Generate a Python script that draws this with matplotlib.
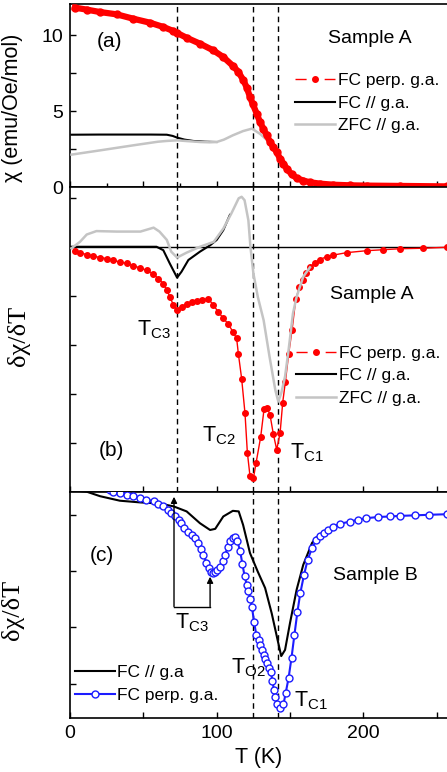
#!/usr/bin/env python

import matplotlib
matplotlib.use("Agg")
import matplotlib.pyplot as plt
from matplotlib.lines import Line2D
from matplotlib.ticker import MultipleLocator, NullFormatter

plt.rcParams['font.family'] = ['Liberation Sans', 'DejaVu Sans']
plt.rcParams['mathtext.fontset'] = 'custom'
plt.rcParams['mathtext.rm'] = 'Liberation Sans'
plt.rcParams['mathtext.default'] = 'regular'

# ---- panel (a): chi vs T, sample A
T_a_perp = [3.4, 11.4, 20.5, 31.8, 43.2, 54.5, 63.6, 70.5, 72.7, 79.5, 88.6, 97.7,
            104.5, 111.4, 114.8, 118.2, 120.5, 122.7, 124.5, 127.3, 129.5, 131.8,
            134.1, 136.4, 138.6, 140.9, 143.2, 145.5, 147.7, 151.1, 154.5, 159.1,
            163.6, 170.5, 179.5, 190.9, 202.3, 225.0, 256.8]
chi_a_perp = [11.80, 11.67, 11.51, 11.36, 11.07, 10.81, 10.53, 10.26, 10.15, 9.82,
              9.43, 8.99, 8.55, 7.94, 7.57, 7.02, 6.54, 5.92, 5.48, 4.82, 4.28,
              3.84, 3.40, 2.96, 2.63, 2.30, 1.86, 1.54, 1.21, 0.83, 0.59, 0.42,
              0.31, 0.22, 0.15, 0.11, 0.09, 0.07, 0.04]

T_a_fc = [1, 20, 40, 55, 66, 70, 73, 78, 84, 92, 100]
chi_a_fc = [3.44, 3.45, 3.45, 3.45, 3.44, 3.36, 3.25, 3.12, 3.03, 2.98, 2.96]

T_a_zfc = [1, 20.5, 43, 60, 66, 73, 80, 88.6, 95, 100, 105, 111, 118, 124, 129.5,
           133, 136, 141, 145.5]
chi_a_zfc = [2.13, 2.41, 2.74, 2.98, 3.03, 3.07, 3.02, 2.96, 2.94, 2.96, 3.12, 3.40,
             3.68, 3.84, 3.50, 3.20, 2.96, 2.40, 1.54]

# ---- panel (b): dchi/dT, sample A
T_b_perp = [3.4, 6.8, 11.4, 15.9, 20.5, 25.0, 29.5, 34.1, 38.6, 43.2, 47.7, 52.3,
            56.8, 60.2, 63.6, 65.9, 68.2, 70.5, 72.7, 76.1, 79.5, 83.0, 86.4, 89.8,
            94.3, 97.7, 101.1, 104.5, 108.0, 110.9, 113.6, 114.8, 117.0, 119.3,
            120.9, 122.7, 125.0, 126.8, 130.0, 132.3, 134.5, 136.4, 138.6, 140.9,
            143.2, 145.0, 146.8, 149.1, 151.4, 153.9, 156.4, 158.6, 160.9, 163.6,
            167.0, 170.5, 175.0, 179.5, 188.6, 202.3, 213.6, 225.0, 240.9, 256.8]
d_b_perp = [-0.08, -0.12, -0.16, -0.19, -0.22, -0.24, -0.28, -0.31, -0.34, -0.39,
            -0.43, -0.48, -0.56, -0.65, -0.75, -0.88, -1.03, -1.19, -1.29, -1.22,
            -1.17, -1.13, -1.10, -1.09, -1.06, -1.19, -1.33, -1.46, -1.58, -1.73,
            -1.87, -2.19, -2.69, -3.40, -4.20, -4.68, -4.73, -4.42, -3.88, -3.31,
            -3.29, -3.44, -3.82, -4.14, -3.81, -3.18, -2.76, -2.18, -1.69, -1.07,
            -0.83, -0.68, -0.53, -0.42, -0.33, -0.26, -0.20, -0.17, -0.12, -0.08,
            -0.06, -0.04, -0.03, -0.01]

T_b_fc = [1, 20.5, 40, 59, 63.6, 68, 73, 76, 80.7, 88.6, 95.5, 100, 104.5, 109]
d_b_fc = [0.0, 0.0, 0.0, 0.0, -0.07, -0.34, -0.63, -0.51, -0.27, -0.10, 0.03, 0.14,
          0.34, 0.65]

T_b_zfc = [1, 6.8, 11.4, 18, 32, 48, 57, 61, 66, 69, 73, 79.5, 88.6, 98, 104.5,
           110, 115, 117, 119, 121.6, 123, 125, 128, 132, 136, 140, 142, 144,
           146.6, 149, 152, 154.5, 159, 163.6]
d_b_zfc = [-0.03, 0.10, 0.25, 0.32, 0.31, 0.31, 0.39, 0.31, 0.14, -0.10, -0.22,
           -0.12, 0.0, 0.10, 0.37, 0.68, 0.99, 1.02, 0.95, 0.54, 0.0, -0.54, -1.02,
           -1.50, -2.24, -2.93, -3.16, -2.99, -2.65, -2.11, -1.36, -1.02, -0.61,
           -0.42]

# ---- panel (c): dchi/dT, sample B
T_c_perp = [27, 29.5, 34, 38.6, 43, 47.7, 52, 57, 60, 63.6, 66.5, 69, 71.5, 74,
            76, 78, 80.5, 83, 85, 87.5, 89.5, 91, 93, 94.5, 96, 97.5, 99, 100.5,
            102, 104, 105.7, 107.5, 109, 111, 112.5, 114, 116, 117.5, 119, 120.5,
            121.6, 123, 124, 125.5, 127, 128.5, 129.5, 131, 132, 133, 134, 135.5,
            137, 138, 139, 140, 141, 143, 145.5, 147, 149, 151, 153, 155, 157,
            159.5, 162, 165, 168, 170.5, 173, 176, 179.5, 184, 191, 196, 202, 210,
            218, 225, 235, 245, 257]
d_c_perp = [0.44, 0.41, 0.38, 0.36, 0.33, 0.30, 0.27, 0.24, 0.20, 0.15, 0.09, 0.03,
            -0.03, -0.09, -0.15, -0.24, -0.30, -0.36, -0.42, -0.50, -0.60, -0.71,
            -0.85, -0.95, -1.02, -1.04, -1.02, -0.98, -0.92, -0.82, -0.71, -0.58,
            -0.47, -0.41, -0.40, -0.46, -0.65, -0.87, -1.09, -1.24, -1.36, -1.50,
            -1.63, -1.91, -2.13, -2.23, -2.31, -2.40, -2.49, -2.56, -2.63, -2.72,
            -2.80, -2.95, -3.11, -3.24, -3.36, -3.43, -3.37, -3.17, -2.90, -2.54,
            -2.13, -1.73, -1.39, -1.07, -0.80, -0.59, -0.44, -0.38, -0.33, -0.27,
            -0.21, -0.16, -0.12, -0.09, -0.06, -0.04, -0.03, -0.02, -0.01, 0.0, 0.01]

T_c_fc = [0, 11.4, 20.5, 34, 47.7, 61, 70.5, 79.5, 88.6, 95.5, 99, 104.5, 111, 115,
          118, 122.7, 128, 133, 137.5, 142, 144, 146.6, 150, 154.5, 159, 165, 168]
d_c_fc = [0.44, 0.41, 0.33, 0.25, 0.22, 0.20, 0.15, 0.06, -0.15, -0.27, -0.25,
          -0.03, 0.07, 0.06, -0.18, -0.68, -1.01, -1.30, -1.75, -2.28, -2.51,
          -2.40, -1.92, -1.33, -0.89, -0.50, -0.40]

T_marks = [72.7, 124.5, 141.6]

W, H = 447, 772
fig = plt.figure(figsize=(W / 100, H / 100), dpi=100)

def px_axes(top, bottom):
    return fig.add_axes([70 / W, 1 - bottom / H, 1 - 70 / W, (bottom - top) / H])

ax_a = px_axes(4, 187)
ax_b = px_axes(187, 491.7)
ax_c = px_axes(491.7, 718)

for ax in (ax_a, ax_b, ax_c):
    ax.set_xlim(0, 257)
    ax.spines['right'].set_visible(False)
    for s in ('left', 'bottom', 'top'):
        ax.spines[s].set_linewidth(1.2)
    ax.tick_params(which='both', direction='in', top=False, right=False,
                   width=1.0, labelsize=14)
    ax.tick_params(which='major', length=4.5, pad=6)
    ax.tick_params(which='minor', length=4.5)

ax_a.set_ylim(0, 12.04)
ax_b.set_ylim(-5.0, 1.22)
ax_c.set_ylim(-3.61, 0.41)

# x ticks
ax_a.xaxis.set_major_locator(MultipleLocator(50))
ax_a.xaxis.set_minor_locator(MultipleLocator(25))
ax_a.tick_params(which='minor', length=3)
for ax in (ax_b, ax_c):
    ax.xaxis.set_major_locator(MultipleLocator(100))
    ax.xaxis.set_minor_locator(MultipleLocator(50))
ax_a.xaxis.set_major_formatter(NullFormatter())
ax_b.xaxis.set_major_formatter(NullFormatter())
ax_c.tick_params(axis='x', pad=5)

# y ticks
ax_a.yaxis.set_major_locator(MultipleLocator(5))
ax_a.yaxis.set_minor_locator(MultipleLocator(2.5))
ax_a.tick_params(axis='y', which='minor', length=4.5)
ax_b.yaxis.set_major_locator(MultipleLocator(1))
ax_c.yaxis.set_major_locator(MultipleLocator(1))
ax_b.yaxis.set_major_formatter(NullFormatter())
ax_c.yaxis.set_major_formatter(NullFormatter())
ax_a.tick_params(axis='y', labelsize=14, pad=5)

red = '#ff0000'
gray = '#c4c4c4'
blue = '#1c1cff'

# dashed markers of the transitions
for ax in (ax_a, ax_b):
    for t in T_marks:
        ax.axvline(t, color='k', lw=1.0, ls=(0, (4, 3)), zorder=1)
for t in T_marks[1:]:
    ax_c.axvline(t, color='k', lw=1.0, ls=(0, (4, 3)), zorder=1)

# (a)
ax_a.plot(T_a_fc, chi_a_fc, color='k', lw=1.5, zorder=2)
ax_a.plot(T_a_zfc, chi_a_zfc, color=gray, lw=1.8, zorder=3)
ax_a.plot(T_a_perp, chi_a_perp, color=red, lw=4.5, marker='o', ms=5, zorder=4)
ax_a.set_ylabel(u'\u03c7 (emu/Oe/mol)', fontsize=15.5)
ax_a.yaxis.set_label_coords(-0.125, 0.43)
ax_a.text(27, 9.6, '(a)', fontsize=15, ha='center', va='center')
ax_a.text(204.5, 9.8, 'Sample A', fontsize=14, ha='center', va='center')

# (b)
ax_b.axhline(0, color='k', lw=1.0, zorder=2)
ax_b.plot(T_b_perp, d_b_perp, color=red, lw=1.0, marker='o', ms=4, zorder=3)
ax_b.plot(T_b_fc, d_b_fc, color='k', lw=1.5, zorder=4)
ax_b.plot(T_b_zfc, d_b_zfc, color=gray, lw=1.8, zorder=5)
ax_b.set_ylabel(u'\u03b4\u03c7/\u03b4T', fontsize=19, family=['Liberation Serif', 'DejaVu Serif'])
ax_b.yaxis.set_label_coords(-0.105, 0.51)
ax_b.text(28, -4.15, '(b)', fontsize=15, ha='center', va='center')
ax_b.text(206, -0.98, 'Sample A', fontsize=14, ha='center', va='center')
ax_b.text(45.7, -1.80, r'T$_{\mathrm{C3}}$', fontsize=15.5, va='baseline')
ax_b.text(89.8, -3.98, r'T$_{\mathrm{C2}}$', fontsize=15.5, va='baseline')
ax_b.text(150.0, -4.32, r'T$_{\mathrm{C1}}$', fontsize=15.5, va='baseline')

# (c)
ax_c.plot(T_c_fc, d_c_fc, color='k', lw=1.5, zorder=3)
ax_c.plot(T_c_perp, d_c_perp, color=blue, lw=1.5, marker='o', ms=5,
          mfc='white', mec=blue, mew=1.0, zorder=4)
ax_c.set_ylabel(u'\u03b4\u03c7/\u03b4T', fontsize=19, family=['Liberation Serif', 'DejaVu Serif'])
ax_c.yaxis.set_label_coords(-0.122, 0.477)
ax_c.set_xlabel('T (K)', fontsize=15.5, labelpad=4)
ax_c.text(21.6, -0.73, '(c)', fontsize=15, ha='center', va='center')
ax_c.text(208, -1.08, 'Sample B', fontsize=14, ha='center', va='center')
ax_c.text(71.6, -2.01, r'T$_{\mathrm{C3}}$', fontsize=15.5, va='baseline')
ax_c.text(109.8, -2.81, r'T$_{\mathrm{O2}}$', fontsize=15.5, va='baseline')
ax_c.text(153.0, -3.40, r'T$_{\mathrm{C1}}$', fontsize=15.5, va='baseline')
ax_c.plot([70.9, 95.5], [-1.63, -1.63], color='k', lw=1.0, zorder=5)
arr = dict(arrowstyle='-|>', color='k', lw=1.0, mutation_scale=9, shrinkA=0, shrinkB=0)
ax_c.annotate('', xy=(70.9, 0.32), xytext=(70.9, -1.63), arrowprops=arr, zorder=5)
ax_c.annotate('', xy=(95.5, -1.10), xytext=(95.5, -1.63), arrowprops=arr, zorder=5)

# legends
h_perp = Line2D([], [], color=red, lw=1.0, ls=(0, (8.0, 13.0)), marker='o', ms=4)
h_fc = Line2D([], [], color='k', lw=1.5)
h_zfc = Line2D([], [], color=gray, lw=1.8)
leg_kw = dict(frameon=False, fontsize=12.5, handlelength=2.3, handletextpad=0.15,
              labelspacing=0.42, borderpad=0, borderaxespad=0, loc='center left')
ax_a.legend([h_perp, h_fc, h_zfc], ['FC perp. g.a.', 'FC // g.a.', 'ZFC // g.a.'],
            bbox_to_anchor=(0.598, 0.459), **leg_kw)
ax_b.legend([h_perp, h_fc, h_zfc], ['FC perp. g.a.', 'FC // g.a.', 'ZFC // g.a.'],
            bbox_to_anchor=(0.600, 0.380), **leg_kw)
h_cb = Line2D([], [], color=blue, lw=1.5, marker='o', ms=5, mfc='white', mec=blue)
ax_c.legend([h_fc, h_cb], ['FC // g.a', 'FC perp. g.a.'],
            bbox_to_anchor=(0.013, 0.151), **leg_kw)

fig.savefig('out.png', dpi=100)
